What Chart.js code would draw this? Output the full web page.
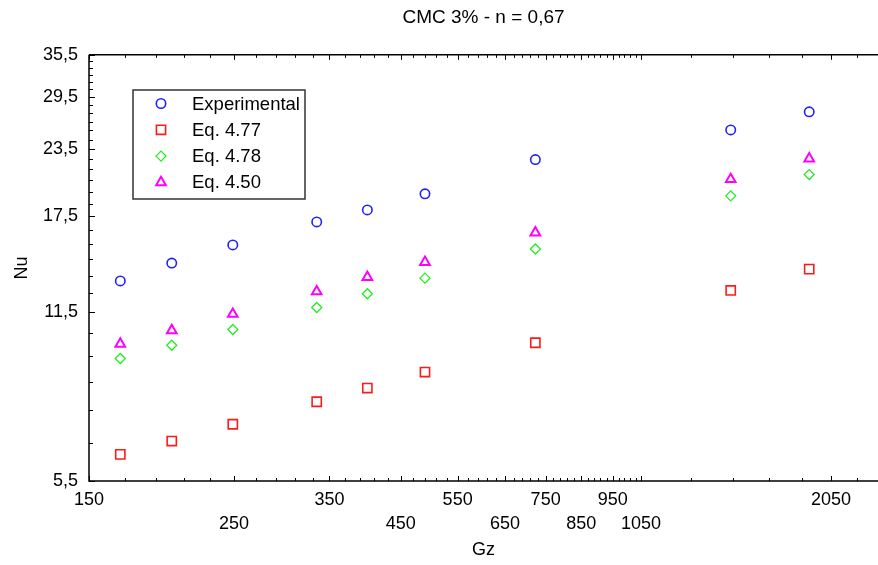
<!DOCTYPE html>
<html>
<head>
<meta charset="utf-8">
<script src="https://cdn.jsdelivr.net/npm/chart.js@4.4.1/dist/chart.umd.min.js"></script>
<style>
  html, body { margin: 0; padding: 0; background: #fff; }
</style>
</head>
<body>
<canvas id="chart" width="878" height="565"></canvas>
<script>
// Gz (x) for every measured point
const gz = [167.5, 200.8, 249, 334.7, 400.1, 490.2, 723.3, 1440, 1899];
// Nu (y) per series
const nuExperimental = [13.2, 14.27, 15.45, 17.09, 18.01, 19.32, 22.45, 25.56, 27.66];
const nuEq477 = [6.18, 6.55, 7.05, 7.78, 8.26, 8.86, 10.07, 12.66, 13.9];
const nuEq478 = [9.4, 9.96, 10.67, 11.75, 12.48, 13.36, 15.18, 19.15, 21.02];
const nuEq450 = [10.02, 10.63, 11.42, 12.6, 13.42, 14.33, 16.3, 20.59, 22.54];

// tick labels
const xTicks = [150, 250, 350, 450, 550, 650, 750, 850, 950, 1050, 2050];
const yTicks = [5.5, 11.5, 17.5, 23.5, 29.5, 35.5];

const font = "'Liberation Sans', Arial, sans-serif";

const toPoints = (ys) => ys.map((y, i) => ({ x: gz[i], y }));

const datasets = [
  { label: 'Experimental', data: toPoints(nuExperimental), pointStyle: 'circle', pointRadius: 4.7, pointBorderWidth: 1.6, borderColor: '#2020ff' },
  { label: 'Eq. 4.77', data: toPoints(nuEq477), pointStyle: 'rect', pointRadius: 6.5, pointBorderWidth: 1.6, borderColor: '#ff1a1a' },
  { label: 'Eq. 4.78', data: toPoints(nuEq478), pointStyle: 'rectRot', pointRadius: 5, pointBorderWidth: 1.3, borderColor: '#22ee22' },
  { label: 'Eq. 4.50', data: toPoints(nuEq450), pointStyle: 'triangle', pointRadius: 5.6, pointBorderWidth: 2, borderColor: '#ff00ff' }
].map((d) => ({
  ...d,
  backgroundColor: 'rgba(0,0,0,0)',
  pointBorderColor: d.borderColor,
  pointBackgroundColor: 'rgba(0,0,0,0)',
  pointHoverRadius: d.pointRadius,
  showLine: false
}));

// minor tick positions (axis decoration only)
const xMinor = [];
for (let v = 170; v <= 1050; v += 20) xMinor.push(v);
for (let v = 1250; v <= 2250; v += 200) xMinor.push(v);
const yMinor = [];
for (let v = 6.5; v < 35.5; v += 1) yMinor.push(v);

// axis lines + inward tick marks, like the original
const axisFrame = {
  id: 'axisFrame',
  beforeDatasetsDraw(chart) {
    const { ctx, chartArea: a, scales: { x, y } } = chart;
    ctx.save();
    ctx.strokeStyle = '#000';
    ctx.lineWidth = 1.5;
    ctx.beginPath();
    ctx.moveTo(a.left, a.top);
    ctx.lineTo(a.left, a.bottom);
    ctx.lineTo(a.right, a.bottom);
    ctx.moveTo(a.left, a.top);
    ctx.lineTo(a.right, a.top);
    ctx.stroke();

    ctx.lineWidth = 1;
    ctx.beginPath();
    const xt = (v, len) => {
      const px = Math.round(x.getPixelForValue(v)) + 0.5;
      ctx.moveTo(px, a.bottom);
      ctx.lineTo(px, a.bottom - len);
      ctx.moveTo(px, a.top);
      ctx.lineTo(px, a.top + len);
    };
    const yt = (v, len) => {
      const py = Math.round(y.getPixelForValue(v)) + 0.5;
      ctx.moveTo(a.left, py);
      ctx.lineTo(a.left + len, py);
    };
    xMinor.forEach((v) => xt(v, 3));
    xTicks.forEach((v) => xt(v, 5));
    yMinor.forEach((v) => yt(v, 4));
    yTicks.forEach((v) => yt(v, 6));
    ctx.stroke();
    ctx.restore();
  }
};

// boxed legend inside the plot
const boxLegend = {
  id: 'boxLegend',
  afterDraw(chart) {
    const { ctx } = chart;
    const box = { left: 133, top: 90, width: 172, height: 109 };
    ctx.save();
    ctx.fillStyle = '#fff';
    ctx.fillRect(box.left, box.top, box.width, box.height);
    ctx.strokeStyle = '#333';
    ctx.lineWidth = 1.5;
    ctx.strokeRect(box.left, box.top, box.width, box.height);
    ctx.font = '18.5px ' + font;
    ctx.textBaseline = 'middle';
    chart.data.datasets.forEach((ds, i) => {
      const cy = box.top + 13.5 + i * 26.3;
      ctx.strokeStyle = ds.pointBorderColor;
      ctx.fillStyle = 'rgba(0,0,0,0)';
      ctx.lineWidth = ds.pointBorderWidth;
      Chart.helpers.drawPoint(ctx, {
        pointStyle: ds.pointStyle,
        radius: ds.pointRadius,
        rotation: 0,
        borderWidth: ds.pointBorderWidth
      }, 161, cy);
      ctx.fillStyle = '#000';
      ctx.fillText(ds.label, 192, cy + 1);
    });
    ctx.restore();
  }
};

new Chart(document.getElementById('chart'), {
  type: 'scatter',
  data: { datasets },
  options: {
    responsive: false,
    animation: false,
    layout: { padding: 0, autoPadding: false },
    plugins: {
      legend: { display: false },
      tooltip: { enabled: false },
      title: {
        display: true,
        text: 'CMC 3% - n = 0,67',
        fullSize: false,
        color: '#000',
        font: { family: font, size: 19, weight: 'normal', lineHeight: 1.2 },
        padding: { top: 6, bottom: 26 }
      }
    },
    scales: {
      x: {
        type: 'logarithmic',
        min: 150,
        max: 2420,
        afterBuildTicks: (scale) => { scale.ticks = xTicks.map((value) => ({ value })); },
        afterFit: (scale) => {
          scale.height = 84;
          scale.paddingLeft = 0;
          scale.paddingRight = 0;
        },
        grid: { display: false, drawTicks: false },
        border: { display: false },
        ticks: {
          autoSkip: false,
          maxRotation: 0,
          padding: 8,
          color: '#000',
          font: { family: font, size: 18, lineHeight: 1.28 },
          callback: (value, index) => (index % 2 && value !== 2050 ? ['', String(value)] : String(value))
        },
        title: {
          display: true,
          text: 'Gz',
          color: '#000',
          font: { family: font, size: 18 },
          padding: { top: 0, bottom: 4 }
        }
      },
      y: {
        type: 'logarithmic',
        min: 5.5,
        max: 35.5,
        afterBuildTicks: (scale) => { scale.ticks = yTicks.map((value) => ({ value })); },
        afterFit: (scale) => { scale.width = 89; },
        grid: { display: false, drawTicks: false },
        border: { display: false },
        ticks: {
          autoSkip: false,
          padding: 11,
          color: '#000',
          font: { family: font, size: 18 },
          callback: (value) => String(value).replace('.', ',')
        },
        title: {
          display: true,
          text: 'Nu',
          color: '#000',
          font: { family: font, size: 18 },
          padding: { top: 11, bottom: 0 }
        }
      }
    }
  },
  plugins: [axisFrame, boxLegend]
});
</script>
</body>
</html>
